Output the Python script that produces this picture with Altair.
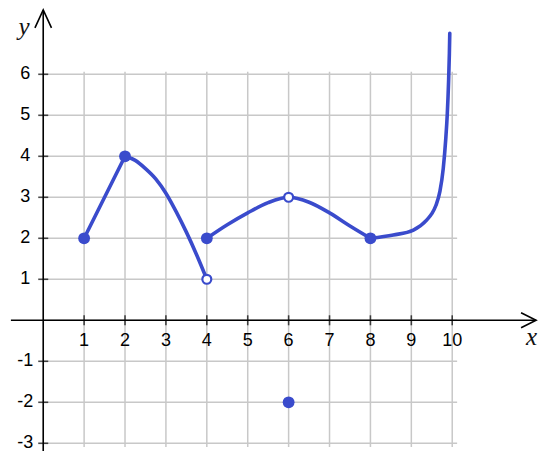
import altair as alt
import pandas as pd

# ---- data ----
x_ticks = [1, 2, 3, 4, 5, 6, 7, 8, 9, 10]
y_ticks = [-3, -2, -1, 1, 2, 3, 4, 5, 6]
y_grid = [-3, -2, -1, 0, 1, 2, 3, 4, 5, 6]

seg1_x = [1, 2]
seg1_y = [2, 4]
seg2_x = [2, 2.25, 2.5, 2.75, 3.0, 3.25, 3.5, 3.75, 4]
seg2_y = [4, 3.9, 3.7, 3.45, 3.1, 2.65, 2.15, 1.6, 1]
seg3_x = [4, 4.5, 5.0, 5.5, 6.0, 6.5, 7.0, 7.5, 8.0]
seg3_y = [2, 2.33, 2.62, 2.87, 3.0, 2.88, 2.62, 2.3, 2.0]
seg4_x = [8, 8.56, 9.05, 9.38, 9.5, 9.6, 9.7, 9.78, 9.84, 9.88, 9.91, 9.93, 9.94]
seg4_y = [2, 2.08, 2.20, 2.45, 2.6, 2.8, 3.15, 3.7, 4.4, 5.05, 5.8, 6.5, 7.0]

filled_x = [1, 2, 4, 8, 6]
filled_y = [2, 4, 2, 2, -2]
open_x = [4, 6]
open_y = [1, 3]

# ---- layout ----
W, H = 530, 443
x_dom = [-0.861, 12.097]
y_dom = [-3.188, 7.617]
grid_x_span = [0, 10.12]
grid_y_span = [-3.09, 6.06]
xaxis_span = [-0.79, 12.05]
yaxis_span = [-3.188, 7.57]
BLUE = "#3a4bcc"
GRID = "#c8c8c8"

xs = alt.Scale(domain=x_dom, nice=False, zero=False)
ys = alt.Scale(domain=y_dom, nice=False, zero=False)

def X(field="x"):
    return alt.X(f"{field}:Q", scale=xs, axis=None)

def Y(field="y"):
    return alt.Y(f"{field}:Q", scale=ys, axis=None)

vgrid = pd.DataFrame({"x": x_ticks, "y": grid_y_span[0], "y2": grid_y_span[1]})
hgrid = pd.DataFrame({"y": y_grid, "x": grid_x_span[0], "x2": grid_x_span[1]})

vg = alt.Chart(vgrid).mark_rule(color=GRID, strokeWidth=1.5).encode(x=X(), y=Y(), y2="y2")
hg = alt.Chart(hgrid).mark_rule(color=GRID, strokeWidth=1.5).encode(y=Y(), x=X(), x2="x2")

xaxis = alt.Chart(pd.DataFrame({"x": [xaxis_span[0]], "x2": [xaxis_span[1]], "y": [0]})).mark_rule(
    color="black", strokeWidth=1.6).encode(x=X(), x2="x2", y=Y())
yaxis = alt.Chart(pd.DataFrame({"y": [yaxis_span[0]], "y2": [yaxis_span[1]], "x": [0]})).mark_rule(
    color="black", strokeWidth=1.6).encode(y=Y(), y2="y2", x=X())

up_arrow = alt.Chart(pd.DataFrame({"x": [0], "y": [yaxis_span[1]]})).mark_point(
    shape="M-0.46,1L0,0L0.46,1", size=1296, filled=False, color="black", strokeWidth=1.6, opacity=1
).encode(x=X(), y=Y())
right_arrow = alt.Chart(pd.DataFrame({"x": [xaxis_span[1]], "y": [0]})).mark_point(
    shape="M-1,-0.5L0,0L-1,0.5", size=900, filled=False, color="black", strokeWidth=1.6, opacity=1
).encode(x=X(), y=Y())

xt = alt.Chart(pd.DataFrame({"x": x_ticks, "y": 0})).mark_tick(
    orient="vertical", size=10, thickness=1.6, color="black").encode(x=X(), y=Y())
yt = alt.Chart(pd.DataFrame({"y": y_ticks, "x": 0})).mark_tick(
    orient="horizontal", size=10, thickness=1.6, color="black").encode(x=X(), y=Y())

xl = alt.Chart(pd.DataFrame({"x": x_ticks, "y": 0, "t": [str(v) for v in x_ticks]})).mark_text(
    font="Liberation Sans", fontSize=18, color="#000", align="center", baseline="alphabetic", dy=26
).encode(x=X(), y=Y(), text="t:N")
yl = alt.Chart(pd.DataFrame({"y": y_ticks, "x": 0, "t": [str(v) for v in y_ticks]})).mark_text(
    font="Liberation Sans", fontSize=18, color="#000", align="center", baseline="middle", dx=-18, dy=0
).encode(x=X(), y=Y(), text="t:N")

names = pd.DataFrame({"x": [11.94, -0.47], "y": [-0.6, 6.96], "t": ["x", "y"]})
nl = alt.Chart(names).mark_text(
    font="Liberation Serif", fontStyle="italic", fontSize=25, color="#111", align="center", baseline="alphabetic"
).encode(x=X(), y=Y(), text="t:N")

rows = []
for sid, (sx, sy) in enumerate([(seg1_x, seg1_y), (seg2_x, seg2_y), (seg3_x, seg3_y), (seg4_x, seg4_y)]):
    for i, (a, b) in enumerate(zip(sx, sy)):
        rows.append({"seg": sid, "x": a, "y": b, "o": i})
curve_df = pd.DataFrame(rows)
curve = alt.Chart(curve_df).mark_line(
    color=BLUE, strokeWidth=3.6, interpolate="monotone", strokeCap="round", strokeJoin="round"
).encode(x=X(), y=Y(), detail="seg:N", order="o:Q")

filled = alt.Chart(pd.DataFrame({"x": filled_x, "y": filled_y})).mark_circle(
    color=BLUE, size=140, opacity=1).encode(x=X(), y=Y())
opened = alt.Chart(pd.DataFrame({"x": open_x, "y": open_y})).mark_point(
    shape="circle", filled=True, fill="white", stroke=BLUE, strokeWidth=2.2, size=80, opacity=1
).encode(x=X(), y=Y())

chart = alt.layer(vg, hg, xaxis, yaxis, up_arrow, right_arrow, xt, yt, xl, yl, nl, curve, filled, opened).properties(
    width=W, height=H, padding=0, autosize=alt.AutoSizeParams(type="none")
).configure_view(stroke=None)

chart.save("out.html", embed_options={"renderer": "svg", "actions": False})
